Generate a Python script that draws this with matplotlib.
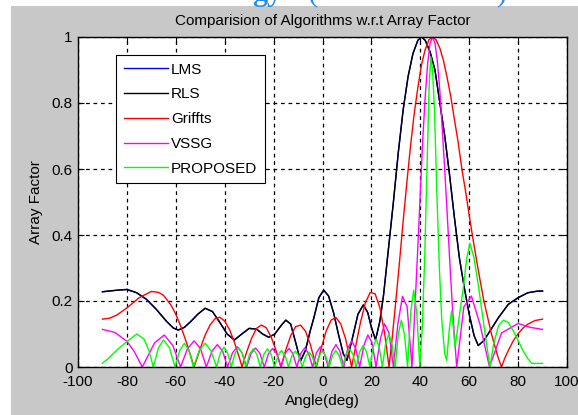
import matplotlib
matplotlib.use("Agg")
import matplotlib.pyplot as plt
from matplotlib import font_manager
from matplotlib.patches import Rectangle

# angle (deg) and array factor, one pair of lists per algorithm
rls_deg = [-90, -85, -80, -76, -72, -68, -64, -61, -59, -56.5,
           -54, -51, -48, -45, -42, -39, -36, -33, -30, -27,
           -24.5, -22, -19.5, -17, -15, -13, -11, -9, -7, -5,
           -3.5, -1.5, 0.5, 2.5, 4.5, 6.5, 8.5, 10, 12, 14.5,
           16.7, 18.5, 20, 21.7, 23.5, 25, 27, 29, 31, 33,
           35, 37, 39, 40.5, 42, 44, 46, 48, 50, 52,
           54, 56, 58, 60, 62, 63.7, 66, 69, 72, 76,
           80, 84, 88, 90]
rls_af = [0.228, 0.232, 0.235, 0.225, 0.205, 0.175, 0.14, 0.118, 0.112, 0.12,
          0.137, 0.16, 0.178, 0.168, 0.135, 0.1, 0.082, 0.1, 0.117, 0.115,
          0.1, 0.09, 0.1, 0.125, 0.142, 0.13, 0.075, 0.018, 0.05, 0.11,
          0.15, 0.21, 0.233, 0.215, 0.165, 0.1, 0.04, 0.02, 0.08, 0.16,
          0.188, 0.165, 0.12, 0.082, 0.14, 0.22, 0.36, 0.5, 0.65, 0.78,
          0.88, 0.95, 0.99, 1.0, 0.99, 0.955, 0.9, 0.8, 0.7, 0.58,
          0.45, 0.33, 0.24, 0.16, 0.095, 0.065, 0.08, 0.115, 0.15, 0.19,
          0.21, 0.225, 0.23, 0.23]

# LMS is hidden under RLS in the reference
lms_deg = rls_deg
lms_af = rls_af

griffs_deg = [-90, -87, -84, -80, -75, -70, -67, -65, -62, -60,
              -58, -56, -54, -52.5, -50, -48, -46, -44, -42, -40,
              -38, -36, -34, -32.9, -31, -29, -27, -25, -23, -21,
              -19, -17, -15, -13, -11, -9, -7, -5, -2.5, -0.5,
              1.5, 3.5, 5.5, 7.5, 9.5, 11.9, 13.5, 15.5, 17.5, 19.5,
              21.5, 23.5, 25.5, 27.2, 28.5, 30, 31.5, 33, 34.5, 36,
              37.5, 39, 40.5, 42, 43.5, 45, 46.5, 48, 49.5, 51,
              52.5, 54, 55.5, 57, 58.5, 60, 61.5, 63, 64.5, 66,
              67.5, 69, 70.5, 72, 73.2, 74.5, 76, 78, 80, 82,
              84, 87, 90]
griffs_af = [0.145, 0.148, 0.158, 0.179, 0.21, 0.229, 0.226, 0.217, 0.188, 0.16,
             0.124, 0.082, 0.036, 0.0, 0.056, 0.097, 0.127, 0.146, 0.151, 0.139,
             0.113, 0.074, 0.028, 0.0, 0.046, 0.087, 0.117, 0.127, 0.119, 0.091,
             0.05, 0.0, 0.052, 0.095, 0.122, 0.127, 0.109, 0.069, 0.0, 0.058,
             0.109, 0.142, 0.15, 0.13, 0.084, 0.0, 0.06, 0.134, 0.194, 0.226,
             0.222, 0.179, 0.098, 0.0, 0.088, 0.201, 0.319, 0.443, 0.559, 0.67,
             0.767, 0.847, 0.916, 0.962, 0.991, 1.0, 0.991, 0.966, 0.928, 0.876,
             0.818, 0.748, 0.68, 0.6, 0.533, 0.46, 0.39, 0.324, 0.261, 0.2,
             0.152, 0.103, 0.063, 0.025, 0.0, 0.026, 0.05, 0.079, 0.101, 0.118,
             0.13, 0.141, 0.145]

vssg_deg = [-90, -85, -80, -77, -73.7, -68.7, -64.7, -61.2, -58.05, -55.2,
            -52.5, -49.9, -47.5, -45.2, -43.0, -40.85, -38.8, -36.8, -34.8, -32.9,
            -31.0, -29.2, -27.4, -25.6, -23.8, -22.1, -20.4, -18.7, -17.0, -15.4,
            -13.7, -12.1, -10.5, -8.9, -7.3, -5.7, -4.05, -2.5, -0.9, 0.7,
            2.3, 3.9, 5.5, 7.1, 8.7, 10.3, 11.95, 13.6, 15.2, 16.9,
            18.55, 20.2, 21.9, 23.7, 25.4, 27.2, 29.0, 30.8, 32.7, 34.6,
            36.6, 37, 38, 39, 40, 41, 42, 43, 44, 45,
            46, 47, 48, 49, 50, 51, 52, 53, 54, 54.9,
            57.8, 60.9, 64.4, 68.3, 73.2, 80, 85, 90]
vssg_af = [0.114, 0.105, 0.078, 0.047, 0.0, 0.073, 0.097, 0.065, 0.0, 0.056,
           0.079, 0.056, 0.0, 0.048, 0.068, 0.048, 0.0, 0.043, 0.061, 0.043,
           0.0, 0.041, 0.0575, 0.041, 0.0, 0.04, 0.056, 0.04, 0.0, 0.04,
           0.056, 0.04, 0.0, 0.041, 0.0575, 0.041, 0.0, 0.043, 0.061, 0.043,
           0.0, 0.048, 0.068, 0.048, 0.0, 0.056, 0.079, 0.056, 0.0, 0.065,
           0.097, 0.0745, 0.0, 0.086, 0.131, 0.103, 0.0, 0.129, 0.214, 0.183,
           0.0, 0.058, 0.209, 0.365, 0.527, 0.689, 0.818, 0.919, 0.981, 1.0,
           0.981, 0.925, 0.836, 0.72, 0.597, 0.464, 0.328, 0.198, 0.089, 0.0,
           0.182, 0.215, 0.13, 0.0, 0.103, 0.132, 0.12, 0.114]

prop_deg = [-90, -87, -84, -80, -76, -73, -71, -69.2, -67.1, -65,
            -62.6, -60.3, -58.4, -56.5, -54.6, -52.8, -50.4, -48, -45.7, -43.3,
            -41.8, -40.3, -38.8, -37.3,
            -35.8, -34.3, -32.8, -31.3,
            -29.8, -28.35, -26.9, -25.4,
            -23.95, -22.5, -21.05, -19.6,
            -18.2, -16.75, -15.3, -13.9,
            -12.5, -11.1, -9.7, -8.3,
            -6.9, -5.55, -4.2, -2.8,
            -1.4, -0.05, 1.3, 2.7,
            4.1, 5.45, 6.8, 8.2,
            9.6, 11.0, 12.4, 13.8,
            15.2, 16.6, 18.0, 19.4,
            20.7, 21.95, 23.2, 24.5,
            25.8, 27.1, 28.4, 29.7,
            31.0, 32.25, 33.5, 34.8,
            36.05, 37.3, 38.55, 39.8,
            40.8, 41.8, 42.8, 43.6, 44.3, 45, 45.8, 46.8, 47.8, 48.8,
            50, 50.8, 51.8, 52.8, 53.5, 54.2, 55.5, 57.6, 59, 60.3,
            62, 63.7, 65, 66.5, 68.5, 70, 72, 74, 76, 78,
            80, 82, 84, 85.6, 90]
prop_af = [0.011, 0.03, 0.052, 0.077, 0.1, 0.085, 0.05, 0.0, 0.058, 0.082,
           0.058, 0.0, 0.05, 0.072, 0.05, 0.0, 0.05, 0.072, 0.05, 0.0,
           0.042, 0.06, 0.042, 0.0,
           0.041, 0.058, 0.041, 0.0,
           0.039, 0.055, 0.039, 0.0,
           0.039, 0.055, 0.039, 0.0,
           0.035, 0.05, 0.035, 0.0,
           0.034, 0.048, 0.034, 0.0,
           0.032, 0.045, 0.032, 0.0,
           0.034, 0.048, 0.034, 0.0,
           0.035, 0.05, 0.035, 0.0,
           0.039, 0.055, 0.039, 0.0,
           0.046, 0.065, 0.046, 0.0,
           0.06, 0.085, 0.06, 0.0,
           0.07, 0.1, 0.07, 0.0,
           0.1, 0.142, 0.1, 0.0,
           0.165, 0.233, 0.165, 0.0,
           0.12, 0.33, 0.62, 0.85, 0.94, 0.9, 0.78, 0.52, 0.3, 0.14,
           0.04, 0.02, 0.11, 0.17, 0.12, 0.06, 0.13, 0.24, 0.33, 0.375,
           0.33, 0.25, 0.18, 0.1, 0.0, 0.07, 0.125, 0.142, 0.135, 0.11,
           0.08, 0.05, 0.025, 0.011, 0.011]

# narrow sans like the MATLAB screenshot, if it is there
names = {f.name for f in font_manager.fontManager.ttflist}
if "Liberation Sans Narrow" in names:
    fam, fs = "Liberation Sans Narrow", 13
else:
    fam, fs = "Liberation Sans", 11
plt.rcParams["font.family"] = [fam, "DejaVu Sans"]
plt.rcParams["axes.unicode_minus"] = False

fig = plt.figure(figsize=(5.78, 4.15), dpi=100)
fig.add_artist(Rectangle((11 / 578, 0), 1, 409 / 415, transform=fig.transFigure,
                         facecolor="#c8c8c8", edgecolor="none", zorder=-1))

# bits of a cut-off heading above the figure
blue = "#2a8ee0"
fig.text(252 / 578, 1.0, "gy", color=blue, fontsize=22, fontweight="bold",
         family="Liberation Serif", va="baseline")
fig.text(308 / 578, 1.0, "(", color=blue, fontsize=22, family="Liberation Serif", va="baseline")
fig.text(496 / 578, 1.0, ")", color=blue, fontsize=22, family="Liberation Serif", va="baseline")

ax = fig.add_axes([78 / 578, 48 / 415, 489 / 578, 330 / 415])
ax.set_facecolor("white")

ax.plot(lms_deg, lms_af, color="#0000ff", lw=1.0, label="LMS")
ax.plot(rls_deg, rls_af, color="black", lw=1.0, label="RLS")
ax.plot(griffs_deg, griffs_af, color="#ff0000", lw=1.0, label="Griffts")
ax.plot(vssg_deg, vssg_af, color="#ff00ff", lw=1.0, label="VSSG")
ax.plot(prop_deg, prop_af, color="#00ff00", lw=1.0, label="PROPOSED")

ax.set_xlim(-100, 100)
ax.set_ylim(0, 1)
ax.set_xticks(range(-100, 101, 20))
ax.set_yticks([0, 0.2, 0.4, 0.6, 0.8, 1])
ax.set_yticklabels(["0", "0.2", "0.4", "0.6", "0.8", "1"])
ax.set_axisbelow(True)
ax.grid(True, color="black", linestyle=(0, (3, 3)), linewidth=0.9)
ax.tick_params(direction="in", length=4, top=True, right=True, labelsize=fs)
ax.tick_params(axis="x", pad=6)
ax.tick_params(axis="y", pad=4)
for s in ax.spines.values():
    s.set_linewidth(1.0)

ax.set_title("Comparision of Algorithms w.r.t Array Factor", fontsize=fs, pad=9)
ax.set_xlabel("Angle(deg)", fontsize=fs, labelpad=3)
ax.set_ylabel("Array Factor", fontsize=fs, labelpad=6)

leg = ax.legend(loc="upper left", bbox_to_anchor=(0.078, 0.945), borderaxespad=0,
                fontsize=fs, fancybox=False, framealpha=1, edgecolor="black",
                handlelength=2.9, handletextpad=0.2, labelspacing=0.7, borderpad=0.5)
leg.get_frame().set_linewidth(0.8)

fig.savefig("out.png", dpi=100, facecolor="white")
